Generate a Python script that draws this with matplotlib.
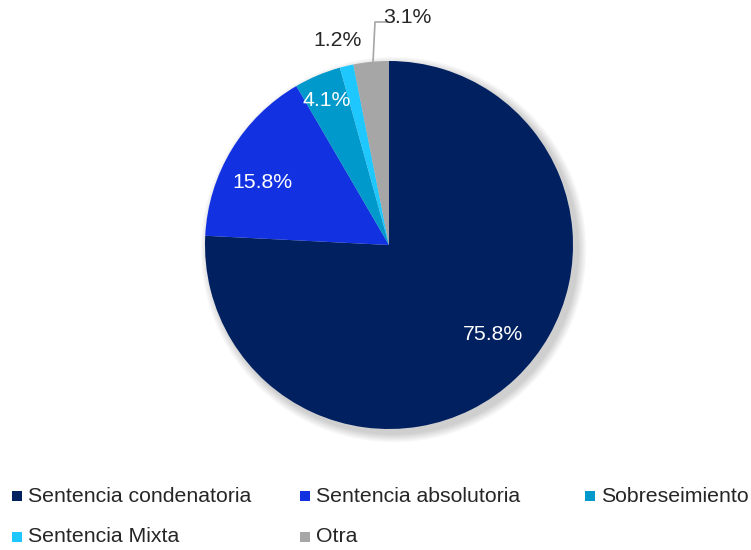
import matplotlib.pyplot as plt
from matplotlib.patches import Circle, Rectangle

plt.rcParams['font.family'] = ['Liberation Sans', 'DejaVu Sans']

# data
categories = ['Sentencia condenatoria', 'Sentencia absolutoria', 'Sobreseimiento',
              'Sentencia Mixta', 'Otra']
shares = [75.8, 15.8, 4.1, 1.2, 3.1]
colors = ['#002060', '#1232E2', '#0099CC', '#1EC8FF', '#A6A6A6']
labels = ['75.8%', '15.8%', '4.1%', '1.2%', '3.1%']

fig = plt.figure(figsize=(7.51, 5.5), dpi=100)
ax = fig.add_axes([205 / 751, 121 / 550, 368 / 751, 368 / 550])

# soft shadow behind the pie
for i in range(8):
    r = 1.0 + 0.006 * (8 - i)
    ax.add_patch(Circle((0.025, -0.025), r, color='black', alpha=0.025, lw=0, zorder=0,
                        clip_on=False))

wedges, _ = ax.pie(shares, colors=colors, startangle=90, counterclock=False,
                   radius=1.0, wedgeprops=dict(linewidth=0))
for w in wedges:
    w.set_zorder(2)
    w.set_clip_on(False)

ax.set_xlim(-1, 1)
ax.set_ylim(-1, 1)
ax.set_aspect('equal')
ax.axis('off')

fs = 15.3
# labels (inside for big slices, outside for small ones)
label_pos = [(0.565, -0.489), (-0.69, 0.337), (-0.337, 0.788), (-0.277, 1.114), (0.098, 1.239)]
label_col = ['white', 'white', 'white', '#262626', '#262626']
for txt, (x, y), c in zip(labels, label_pos, label_col):
    ax.text(x, y, txt, ha='center', va='center', fontsize=fs, color=c, zorder=5,
            clip_on=False)

# leader line for Otra
ax.plot([-0.087, -0.076, -0.01], [0.995, 1.212, 1.212], color='#A6A6A6', lw=1.2,
        clip_on=False, zorder=4)

# legend, drawn by hand
leg_x = [17, 305, 590, 17, 305]
leg_y = [496, 496, 496, 537, 537]
for name, c, x, y in zip(categories, colors, leg_x, leg_y):
    fig.patches.append(Rectangle(((x - 5) / 751, 1 - (y + 5) / 550), 10 / 751, 10 / 550,
                                 transform=fig.transFigure, color=c, lw=0))
    fig.text((x + 11) / 751, 1 - y / 550, name, ha='left', va='center', fontsize=fs,
             color='#262626')

fig.savefig('out.png', dpi=100)
